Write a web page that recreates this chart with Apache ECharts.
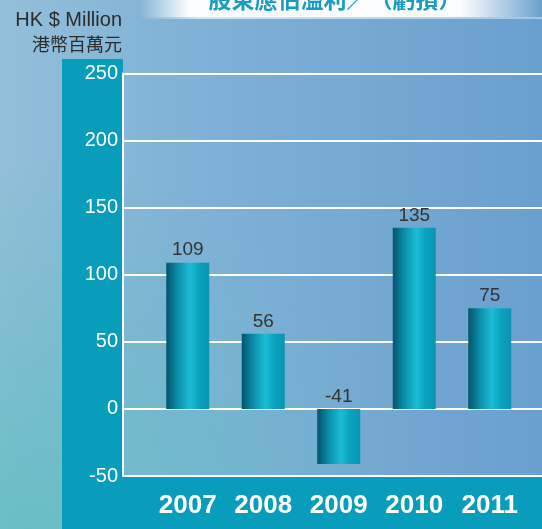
<!DOCTYPE html>
<html lang="zh-HK">
<head>
<meta charset="utf-8">
<title>股東應佔溢利／（虧損）</title>
<style>
  html, body { margin: 0; padding: 0; width: 100%; height: 100%; }
  #chart { width: 542px; height: 529px; }
</style>
</head>
<body>
<div id="chart"></div>
<script src="https://cdn.jsdelivr.net/npm/echarts@6/dist/echarts.min.js"></script>
<script>
// 數據
const years = ['2007', '2008', '2009', '2010', '2011'];
const profit = [109, 56, -41, 135, 75];
const yTicks = { min: -50, max: 250, step: 50 };

const chart = echarts.init(document.getElementById('chart'));

// 柱子的圓柱效果
const barFill = new echarts.graphic.LinearGradient(0, 0, 1, 0, [
  { offset: 0, color: '#04546b' },
  { offset: 0.25, color: '#0a8aa6' },
  { offset: 0.55, color: '#1bbdd6' },
  { offset: 0.75, color: '#0aa3c0' },
  { offset: 1, color: '#0895b2' }
]);

const option = {
  animation: false,
  title: {
    text: '股東應佔溢利／（虧損）',
    left: 330,
    textAlign: 'center',
    top: -17,
    textStyle: {
      color: '#1a9cc2',
      fontFamily: 'Noto Sans CJK TC',
      fontWeight: 'bold',
      fontSize: 23
    }
  },
  graphic: [
    // 背景
    {
      type: 'rect', z: -100, silent: true,
      shape: { x: 0, y: 0, width: 542, height: 529 },
      style: {
        fill: new echarts.graphic.LinearGradient(0, 0, 1, 0, [
          { offset: 0, color: '#93bfd9' },
          { offset: 0.3, color: '#82b3d7' },
          { offset: 1, color: '#6aa0cf' }
        ])
      }
    },
    {
      type: 'rect', z: -99, silent: true,
      shape: { x: 0, y: 0, width: 542, height: 529 },
      style: {
        fill: new echarts.graphic.RadialGradient(0.05, 1, 0.7, [
          { offset: 0, color: 'rgba(100,190,195,0.9)' },
          { offset: 1, color: 'rgba(100,190,195,0)' }
        ])
      }
    },
    // 標題光帶
    {
      type: 'rect', z: -98, silent: true,
      shape: { x: 140, y: 0, width: 402, height: 17 },
      style: {
        fill: new echarts.graphic.LinearGradient(0, 0, 1, 0, [
          { offset: 0, color: 'rgba(255,255,255,0)' },
          { offset: 0.12, color: 'rgba(255,255,255,0.97)' },
          { offset: 0.8, color: 'rgba(255,255,255,0.97)' },
          { offset: 1, color: 'rgba(255,255,255,0)' }
        ])
      }
    },
    {
      type: 'rect', z: -98, silent: true,
      shape: { x: 140, y: 17, width: 402, height: 2 },
      style: {
        fill: new echarts.graphic.LinearGradient(0, 0, 1, 0, [
          { offset: 0, color: 'rgba(220,235,245,0)' },
          { offset: 0.15, color: 'rgba(220,235,245,0.9)' },
          { offset: 1, color: 'rgba(220,235,245,0.5)' }
        ])
      }
    },
    // 青色邊條
    {
      type: 'rect', z: -97, silent: true,
      shape: { x: 62, y: 59, width: 61, height: 470 },
      style: { fill: '#089dbb' }
    },
    {
      type: 'rect', z: -97, silent: true,
      shape: { x: 62, y: 476, width: 480, height: 53 },
      style: { fill: '#089dbb' }
    },
    // 單位
    {
      type: 'text', silent: true,
      style: {
        text: 'HK $ Million', x: 122, y: 20,
        align: 'right', verticalAlign: 'middle',
        fill: '#2b2b2b', fontSize: 20, fontFamily: 'Liberation Sans'
      }
    },
    {
      type: 'text', silent: true,
      style: {
        text: '港幣百萬元', x: 122, y: 44,
        align: 'right', verticalAlign: 'middle',
        fill: '#2b2b2b', fontSize: 18, fontFamily: 'Noto Sans CJK TC'
      }
    }
  ],
  grid: [
    { left: 123, right: 0, top: 73.5, bottom: 53 },
    { left: 150, width: 377.5, top: 73.5, bottom: 53 }
  ],
  xAxis: [
    { gridIndex: 0, type: 'category', show: false, data: years },
    {
      gridIndex: 1,
      type: 'category',
      data: years,
      axisLine: { show: false },
      axisTick: { show: false },
      axisLabel: {
        color: '#ffffff',
        fontFamily: 'Liberation Sans',
        fontWeight: 'bold',
        fontSize: 26,
        margin: 17
      }
    }
  ],
  yAxis: [
    {
      gridIndex: 0,
      type: 'value',
      min: yTicks.min,
      max: yTicks.max,
      interval: yTicks.step,
      axisLine: { show: true, lineStyle: { color: '#ffffff', width: 2 } },
      axisTick: { show: false },
      splitLine: { lineStyle: { color: '#ffffff', width: 2 } },
      axisLabel: {
        color: '#ffffff',
        fontFamily: 'Liberation Sans',
        fontSize: 20,
        margin: 5
      }
    },
    {
      gridIndex: 1,
      type: 'value',
      min: yTicks.min,
      max: yTicks.max,
      interval: yTicks.step,
      show: false,
      splitLine: { show: false }
    }
  ],
  series: [
    {
      type: 'bar',
      xAxisIndex: 1,
      yAxisIndex: 1,
      data: profit,
      barWidth: 43,
      itemStyle: { color: barFill },
      label: {
        show: true,
        position: 'top',
        distance: 3,
        color: '#333333',
        fontFamily: 'Liberation Sans',
        fontSize: 19
      }
    }
  ]
};

chart.setOption(option);
</script>
</body>
</html>
